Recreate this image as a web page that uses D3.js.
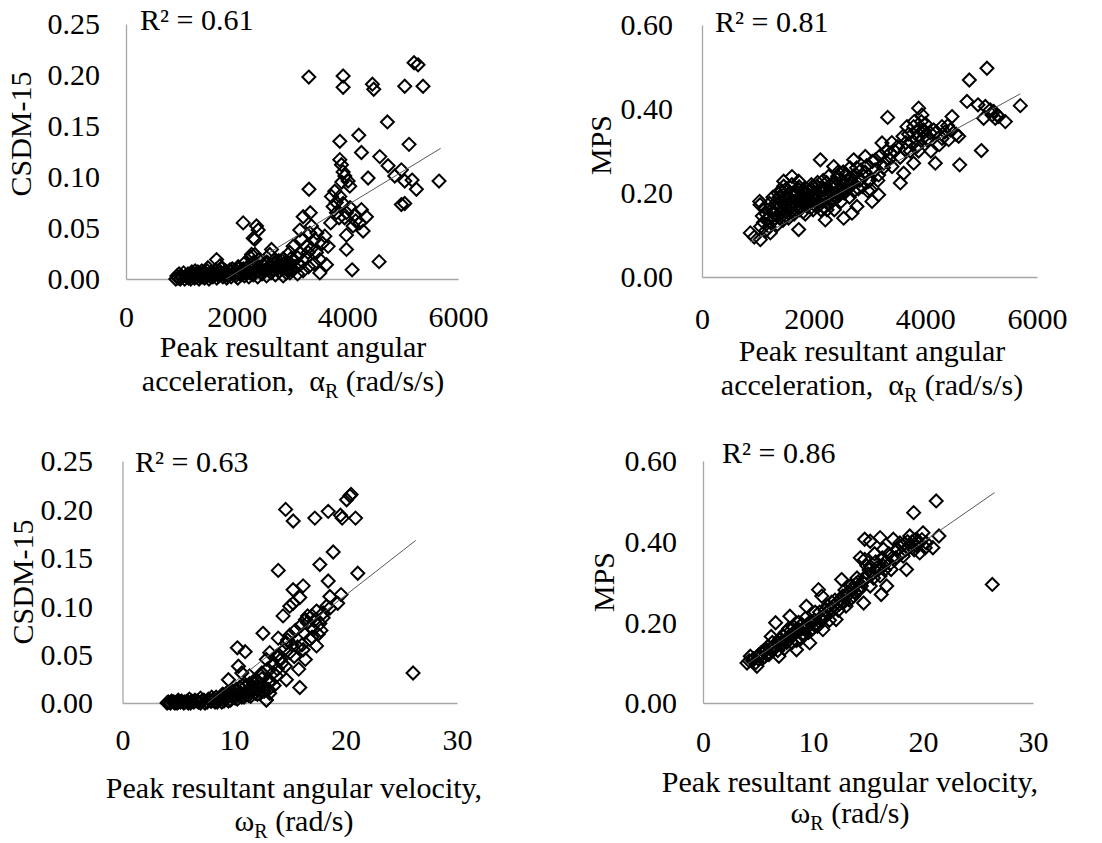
<!DOCTYPE html>
<html><head><meta charset="utf-8">
<script src="https://cdn.jsdelivr.net/npm/d3@7"></script>
<style>
body{margin:0;background:#fff}
svg text{font-family:"Liberation Serif","Times New Roman",serif !important;fill:#000}
</style>
</head><body>
<svg id="chart" width="1102" height="843" font-family="Liberation Serif"></svg>
<script>
// ---------- tick labels ----------
const accelTicks = [0, 2000, 4000, 6000];
const velTicks = [0, 10, 20, 30];
const csdmTicks = [0, 0.05, 0.10, 0.15, 0.20, 0.25];
const mpsTicks = [0, 0.20, 0.40, 0.60];
const r2Values = ["0.61", "0.81", "0.63", "0.86"];
const yTitles = ["CSDM-15", "MPS", "CSDM-15", "MPS"];

// ---------- data: [x, y] pairs ----------
const accelCsdm = [
[900,0.000],[940,0.001],[980,0.000],[1020,0.002],[1060,0.000],[1100,0.003],[1130,0.001],[1170,0.000],[1200,0.004],[1240,0.001],
[1280,0.002],[1320,0.000],[1350,0.005],[1390,0.002],[1420,0.001],[1460,0.003],[1500,0.000],[1530,0.006],[1570,0.002],[1600,0.004],
[1640,0.001],[1680,0.003],[1710,0.007],[1750,0.002],[1790,0.005],[1820,0.001],[1860,0.004],[1900,0.002],[1940,0.006],[1980,0.003],
[2020,0.001],[2060,0.005],[2100,0.008],[2140,0.003],[2180,0.006],[2220,0.002],[2260,0.009],[2300,0.004],[2340,0.007],[2380,0.002],
[2420,0.010],[2460,0.005],[2500,0.008],[2540,0.003],[2580,0.012],[2620,0.006],[2660,0.010],[2700,0.004],[2740,0.014],[2780,0.008],
[2820,0.018],[2860,0.011],[2900,0.006],[2950,0.015],[3000,0.009],
[920,0.003],[960,0.005],[1000,0.002],[1040,0.006],[1080,0.003],[1120,0.005],[1160,0.002],[1190,0.007],[1220,0.003],[1260,0.005],
[1300,0.007],[1340,0.002],[1370,0.008],[1410,0.004],[1440,0.006],[1470,0.008],[1510,0.003],[1550,0.007],[1590,0.005],[1620,0.009],
[1660,0.004],[1690,0.006],[1730,0.010],[1770,0.005],[1800,0.008],[1840,0.003],[1880,0.007],[1920,0.010],[1960,0.005],[2000,0.008],
[2040,0.011],[2080,0.004],[2120,0.010],[2160,0.007],[2200,0.012],[2240,0.006],[2280,0.011],[2320,0.013],[2360,0.008],[2400,0.012],
[2440,0.006],[2480,0.014],[2520,0.009],[2560,0.016],[2600,0.011],[2640,0.008],[2680,0.015],[2720,0.010],[2760,0.018],[2800,0.013],
[2840,0.020],[2880,0.016],[2920,0.010],[2980,0.020],[3040,0.018],[3100,0.005],[3200,0.008],[3300,0.012],[3400,0.015],
[1250,0.008],[1480,0.011],[1637,0.019],[1700,0.013],[1878,0.009],[2028,0.012],[2150,0.016],[2250,0.021],[2330,0.024],[2299,0.016],
[2400,0.019],[2540,0.016],[2600,0.024],[2690,0.019],[2630,0.029],[2750,0.012],[2841,0.003],[2901,0.016],[2961,0.026],[3021,0.032],
[3081,0.022],[3141,0.048],[3141,0.014],[3171,0.039],[3202,0.061],[3262,0.032],[3292,0.026],[3322,0.045],[3352,0.052],[3412,0.039],
[3442,0.026],[3503,0.019],[3503,0.006],[3593,0.042],[3623,0.014],[3653,0.032],[2961,0.006],[3021,0.009],[2118,0.055],[2359,0.052],
[2389,0.048],[2329,0.039],[2269,0.024],[2299,0.040],[3307,0.088],[3304,0.198],[3924,0.199],[3924,0.188],[4453,0.191],[4477,0.186],
[5037,0.189],[5206,0.212],[5278,0.210],[5368,0.189],[4724,0.154],[3864,0.135],[4207,0.141],[4255,0.124],[5115,0.132],[4586,0.120],
[4736,0.111],[4375,0.099],[4977,0.107],[4857,0.101],[5037,0.096],[5170,0.097],[5248,0.088],[5657,0.096],[4977,0.073],[5037,0.074],
[4574,0.017],[4086,0.009],[3864,0.117],[3894,0.112],[3924,0.105],[3954,0.101],[4014,0.096],[4044,0.091],[3773,0.086],[3864,0.081],
[3713,0.081],[3743,0.071],[3924,0.074],[3803,0.065],[3984,0.065],[4134,0.063],[4255,0.068],[4345,0.061],[4225,0.055],[4104,0.052],
[4285,0.047],[3984,0.043],[3984,0.029],[3330,0.065],[3450,0.045],[3550,0.035],[3700,0.055],[3800,0.075],[3850,0.060],[3900,0.095],
[3950,0.060],[4050,0.070],[4150,0.057],[3350,0.030],[3250,0.020],[3150,0.025],[3050,0.012]
];
const accelMps = [
[866,0.105],[937,0.095],[1045,0.089],[1033,0.180],[1040,0.172],[1224,0.105],[1164,0.136],[1313,0.152],[1403,0.168],[1463,0.216],
[1463,0.228],[1612,0.239],[1731,0.228],[1731,0.113],[1881,0.168],[1821,0.184],[1999,0.192],[2060,0.216],[2119,0.279],[2239,0.160],
[2209,0.136],[2328,0.184],[2358,0.263],[2418,0.232],[2478,0.204],[2537,0.140],[2657,0.216],[2716,0.279],[2687,0.152],[2776,0.168],
[2836,0.232],[2925,0.287],[2985,0.228],[3015,0.208],[3045,0.180],[3164,0.196],[3104,0.279],[3164,0.243],[3224,0.319],[3254,0.271],
[3325,0.380],[3373,0.295],[3403,0.263],[3552,0.224],[3612,0.247],[3641,0.303],[3671,0.358],[3791,0.358],[3791,0.271],[3851,0.311],
[3880,0.402],[3940,0.386],[3970,0.350],[4030,0.327],[4089,0.343],[4179,0.271],[4298,0.358],[4418,0.327],[4478,0.382],[4597,0.335],
[4615,0.267],[4746,0.418],[4788,0.469],[4943,0.410],[5003,0.301],[5075,0.406],[5104,0.497],[5164,0.398],[5224,0.394],[5283,0.386],
[5313,0.382],[5253,0.378],[5194,0.386],[5433,0.370],[5701,0.408],[5044,0.378],
[1100,0.130],[1150,0.150],[1200,0.120],[1250,0.160],[1300,0.140],[1320,0.175],[1350,0.125],[1380,0.190],[1400,0.150],[1430,0.205],
[1450,0.135],[1480,0.170],[1500,0.155],[1520,0.185],[1550,0.140],[1580,0.200],[1600,0.165],[1620,0.180],[1650,0.150],[1680,0.195],
[1700,0.170],[1720,0.210],[1750,0.160],[1780,0.185],[1800,0.175],[1830,0.200],[1850,0.150],[1880,0.190],[1900,0.180],[1930,0.205],
[1950,0.165],[1980,0.215],[2000,0.185],[2030,0.170],[2060,0.200],[2100,0.190],[2130,0.160],[2160,0.210],[2200,0.195],[2230,0.225],
[2260,0.175],[2300,0.205],[2330,0.215],[2360,0.185],[2400,0.200],[2430,0.240],[2460,0.195],[2500,0.220],[2530,0.250],[2560,0.205],
[2600,0.230],[2650,0.260],[2700,0.225],[2750,0.245],[2800,0.210],[2850,0.255],[2900,0.240],[2950,0.265],[3000,0.230],[3100,0.255],
[3200,0.290],[3300,0.300],[3400,0.320],[3500,0.310],[3600,0.335],[3700,0.340],[3750,0.320],[3800,0.370],[3850,0.345],[3900,0.355],
[3950,0.330],[4000,0.365],[4100,0.300],[4200,0.345],[4300,0.330],[4400,0.360],
[1050,0.120],[1080,0.145],[1120,0.165],[1140,0.110],[1180,0.140],[1210,0.175],[1240,0.130],[1270,0.190],[1290,0.150],[1330,0.160],
[1360,0.200],[1390,0.140],[1410,0.180],[1440,0.160],[1460,0.195],[1490,0.145],[1510,0.210],[1540,0.170],[1560,0.190],[1590,0.155],
[1610,0.220],[1640,0.175],[1660,0.200],[1690,0.160],[1710,0.185],[1740,0.215],[1760,0.170],[1790,0.195],[1810,0.155],[1840,0.185],
[1860,0.210],[1890,0.170],[1910,0.195],[1940,0.180],[1960,0.220],[1990,0.160],[2010,0.200],[2040,0.185],[2070,0.225],[2090,0.170],
[2120,0.205],[2150,0.180],[2170,0.230],[2190,0.165],[2220,0.210],[2250,0.190],[2270,0.240],[2290,0.175],[2320,0.200],[2350,0.225],
[2370,0.160],[2390,0.215],[2420,0.190],[2440,0.250],[2470,0.210],[2490,0.180],[2520,0.230],[2550,0.200],[2580,0.245],[2610,0.215],
[2640,0.190],[2670,0.235],[2720,0.205],[2770,0.260],[2820,0.230],[2870,0.215],[2920,0.250],[2970,0.205],[3050,0.275],[3150,0.230],
[3250,0.260],[3350,0.280],[3450,0.300],[3550,0.285],[3650,0.320],[3730,0.300],[3830,0.330],[3880,0.300],[3930,0.370],[3980,0.345],
[4050,0.330],[4150,0.350],[4250,0.315],[4350,0.345],[4450,0.350],[4550,0.340]
];
const velCsdm = [
[4.0,0.000],[4.3,0.000],[4.6,0.001],[4.9,0.000],[5.2,0.001],[5.5,0.000],[5.8,0.002],[6.1,0.000],[6.4,0.001],[6.7,0.002],
[7.0,0.000],[7.3,0.003],[7.6,0.001],[7.9,0.002],[8.2,0.004],[8.5,0.001],[8.8,0.005],[9.1,0.002],[9.4,0.006],[9.7,0.003],
[10.0,0.008],[10.3,0.004],[10.6,0.010],[10.9,0.006],[11.2,0.012],[11.5,0.007],[11.8,0.015],[12.1,0.009],[12.4,0.018],[12.7,0.012],
[5.0,0.003],[6.0,0.004],[7.0,0.005],[8.0,0.006],[9.0,0.009],[9.6,0.011],[10.2,0.014],[10.8,0.018],[11.4,0.020],[12.0,0.024],
[12.9,0.003],[13.2,0.010],
[4.1,0.001],[4.4,0.002],[4.7,0.000],[5.0,0.001],[5.3,0.002],[5.6,0.001],[5.9,0.000],[6.2,0.002],[6.5,0.003],[6.8,0.001],
[7.1,0.002],[7.4,0.000],[7.7,0.004],[8.0,0.002],[8.3,0.001],[8.6,0.003],[8.9,0.001],[9.2,0.004],[9.5,0.002],[9.8,0.007],
[10.1,0.005],[10.4,0.009],[10.7,0.006],[11.0,0.011],[11.3,0.008],[11.6,0.013],[11.9,0.010],[12.2,0.014],[12.5,0.012],[12.8,0.016],
[13.1,0.014],[8.4,0.006],[8.9,0.008],[9.3,0.010],[9.9,0.012],[10.5,0.016],[11.1,0.018],[11.7,0.022],[12.3,0.020],[12.6,0.030],
[13.3,0.022],[13.6,0.018],[13.9,0.035],
[14.63,0.200],[15.31,0.188],[17.25,0.191],[18.45,0.198],[19.55,0.194],[19.70,0.191],[20.1,0.210],[20.4,0.214],[20.5,0.2155],[20.9,0.191],
[18.9,0.156],[17.7,0.143],[18.45,0.126],[21.1,0.134],[13.97,0.137],[15.3,0.117],[16.2,0.121],[15.9,0.109],[15.3,0.103],[15.0,0.100],
[14.4,0.090],[16.4,0.086],[18.6,0.110],[19.6,0.112],[19.3,0.103],[18.6,0.098],[18.0,0.093],[17.0,0.090],[16.6,0.083],[17.1,0.076],
[17.55,0.071],[17.4,0.059],[16.8,0.066],[16.1,0.060],[16.4,0.045],[15.8,0.035],[15.9,0.016],[14.7,0.024],[15.0,0.052],[14.7,0.062],
[13.97,0.067],[12.6,0.072],[13.2,0.052],[13.8,0.048],[14.3,0.041],[12.9,0.045],[12.5,0.031],[13.5,0.031],[13.1,0.021],[12.0,0.017],
[12.9,0.003],[10.3,0.057],[11.0,0.053],[10.4,0.038],[10.7,0.031],[9.5,0.024],[11.4,0.028],[11.6,0.017],[11.1,0.010],[26.06,0.031],
[13.5,0.040],[14.0,0.050],[14.2,0.045],[14.5,0.055],[14.8,0.065],[15.0,0.070],[15.2,0.060],[15.5,0.075],[15.7,0.058],[16.0,0.080],
[16.3,0.072],[16.6,0.090],[16.9,0.078],[17.2,0.085],[17.4,0.095],[17.7,0.082],[18.0,0.088],[18.3,0.100],[13.0,0.035],[12.5,0.025],
[13.8,0.028],[14.6,0.038],[15.4,0.048],[16.2,0.055],[17.0,0.068],[17.8,0.075]
];
const velMps = [
[4.0,0.099],[4.3,0.116],[4.5,0.105],[4.9,0.091],[5.0,0.110],[5.3,0.125],[5.6,0.115],[5.9,0.140],[6.0,0.120],[6.3,0.150],
[6.6,0.199],[6.5,0.135],[6.9,0.116],[7.0,0.160],[7.2,0.145],[7.5,0.175],[7.7,0.155],[7.9,0.215],[8.0,0.165],[8.2,0.190],
[8.5,0.132],[8.4,0.175],[8.7,0.200],[8.9,0.160],[9.1,0.185],[9.4,0.240],[9.3,0.210],[9.6,0.175],[9.7,0.149],[9.9,0.200],
[10.2,0.225],[10.5,0.281],[10.4,0.190],[10.8,0.265],[10.9,0.182],[11.0,0.215],[11.3,0.240],[11.5,0.205],[11.8,0.230],[12.1,0.207],
[12.0,0.255],[12.4,0.245],[12.6,0.306],[12.7,0.265],[13.0,0.240],[13.2,0.275],[13.5,0.260],[13.7,0.265],[13.9,0.295],[14.2,0.280],
[14.3,0.360],[14.5,0.300],[14.6,0.248],[14.7,0.406],[14.7,0.356],[15.0,0.320],[15.2,0.401],[15.2,0.339],[15.2,0.290],[15.5,0.310],
[15.8,0.335],[16.1,0.410],[16.1,0.315],[16.2,0.269],[16.4,0.381],[16.6,0.350],[16.7,0.290],[17.0,0.345],[17.1,0.331],[17.3,0.406],
[17.5,0.360],[17.9,0.397],[18.0,0.370],[18.2,0.364],[18.5,0.331],[18.8,0.414],[18.7,0.385],[19.15,0.472],[19.0,0.400],[19.4,0.390],
[19.7,0.372],[20.0,0.422],[20.3,0.397],[20.9,0.385],[21.2,0.501],[21.45,0.414],[26.3,0.294],
[5.5,0.130],[6.2,0.165],[6.8,0.150],[7.4,0.135],[7.8,0.185],[8.1,0.150],[8.6,0.185],[9.0,0.170],[9.5,0.195],[10.0,0.185],
[10.6,0.210],[11.1,0.230],[11.7,0.250],[12.3,0.230],[12.9,0.280],[13.4,0.290],[14.0,0.310],[14.9,0.340],[15.6,0.370],[16.4,0.340],
[17.6,0.380],[18.3,0.395],[19.2,0.380],
[4.2,0.105],[4.6,0.110],[4.8,0.100],[5.1,0.120],[5.4,0.110],[5.7,0.130],[5.8,0.120],[6.1,0.135],[6.4,0.140],[6.7,0.150],
[6.8,0.130],[7.1,0.150],[7.3,0.165],[7.6,0.150],[7.8,0.165],[8.0,0.180],[8.3,0.170],[8.5,0.155],[8.8,0.180],[9.0,0.195],
[9.2,0.170],[9.4,0.185],[9.7,0.200],[9.8,0.180],[10.1,0.205],[10.3,0.195],[10.6,0.225],[10.8,0.205],[11.1,0.215],[11.3,0.225],
[11.6,0.235],[11.9,0.240],[12.2,0.250],[12.5,0.255],[12.8,0.250],[13.1,0.265],[13.3,0.255],[13.6,0.280],[13.8,0.275],[14.1,0.300],
[14.4,0.290],[14.8,0.310],[15.1,0.330],[15.4,0.320],[15.7,0.350],[15.9,0.330],[16.3,0.360],[16.5,0.330],[16.9,0.370],[17.2,0.360],
[17.4,0.355],[17.7,0.380],[18.1,0.390],[18.4,0.380],[18.6,0.400],[18.9,0.390],[19.3,0.405],[19.6,0.395],[19.9,0.405],[20.2,0.385]
];

// trendlines: [slope, intercept, xFirst, xLast]
const trendAccelCsdm = [3.3e-5, -0.0596, 900, 5686];
const trendAccelMps = [7.3e-5, 0.020, 866, 5701];
const trendVelCsdm = [0.0090, -0.0687, 4.0, 26.3];
const trendVelMps = [0.0189, 0.0207, 4.0, 26.5];

// ---------- layout ----------
const panels = [
  {data: accelCsdm, trend: trendAccelCsdm, xDom:[0,6000], yDom:[0,0.25], xT: accelTicks, yT: csdmTicks,
   L:126, R:458, T:24, B:279, yLab:100, xLabY:317, tX:20, tY:134, r2X:140, r2Y:30,
   xt1:357, xt2:391, xtX:293, title1:"Peak resultant angular", sym:"α", unit:" (rad/s/s)", pre:"acceleration,  "},
  {data: accelMps, trend: trendAccelMps, xDom:[0,6000], yDom:[0,0.6], xT: accelTicks, yT: mpsTicks,
   L:702, R:1037, T:25, B:277, yLab:673, xLabY:319, tX:600, tY:145, r2X:715, r2Y:32,
   xt1:361, xt2:395, xtX:872, title1:"Peak resultant angular", sym:"α", unit:" (rad/s/s)", pre:"acceleration,  "},
  {data: velCsdm, trend: trendVelCsdm, xDom:[0,30], yDom:[0,0.25], xT: velTicks, yT: csdmTicks,
   L:122.5, R:457, T:461, B:703, yLab:93, xLabY:740, tX:22, tY:582, r2X:135, r2Y:472,
   xt1:798, xt2:831, xtX:294, title1:"Peak resultant angular velocity,", sym:"ω", unit:" (rad/s)", pre:""},
  {data: velMps, trend: trendVelMps, xDom:[0,30], yDom:[0,0.6], xT: velTicks, yT: mpsTicks,
   L:703, R:1033, T:461, B:703, yLab:677, xLabY:742, tX:603, tY:582, r2X:722, r2Y:463,
   xt1:792, xt2:823, xtX:850, title1:"Peak resultant angular velocity,", sym:"ω", unit:" (rad/s)", pre:""}
];

const svg = d3.select("#chart");
const FS = 30;
const FONT = "Liberation Serif";
const AXIS = "#a6a6a6";
const rD = 6.5;
const diamond = `M0,${-rD}L${rD},0L0,${rD}L${-rD},0Z`;

panels.forEach((p, i) => {
  const x = d3.scaleLinear().domain(p.xDom).range([p.L, p.R]);
  const y = d3.scaleLinear().domain(p.yDom).range([p.B, p.T]);
  const g = svg.append("g");

  // y axis
  const ya = g.append("g").attr("transform", `translate(${p.L},0)`)
    .call(d3.axisLeft(y).tickValues(p.yT).tickSize(0).tickSizeOuter(0).tickFormat(d3.format(".2f")).tickPadding(p.L - p.yLab));
  ya.attr("font-family", FONT).attr("font-size", FS);
  ya.select(".domain").attr("stroke", AXIS).attr("stroke-width", 1.3);
  ya.selectAll("text").attr("font-size", FS).attr("font-family", FONT).attr("dy", "0.33em");

  // x axis
  const xa = g.append("g").attr("transform", `translate(0,${p.B})`)
    .call(d3.axisBottom(x).tickValues(p.xT).tickSize(0).tickSizeOuter(0).tickFormat(d3.format("d")));
  xa.attr("font-family", FONT).attr("font-size", FS);
  xa.select(".domain").attr("stroke", AXIS).attr("stroke-width", 1.3);
  xa.selectAll("text").attr("font-size", FS).attr("font-family", FONT)
    .attr("y", p.xLabY - p.B).attr("dy", "0.33em");

  // points
  g.append("g").selectAll("path").data(p.data).join("path")
    .attr("d", diamond)
    .attr("transform", d => `translate(${x(d[0])},${y(d[1])})`)
    .attr("fill", "none").attr("stroke", "#000").attr("stroke-width", 2);

  // trendline (clipped at y = 0)
  const [m, b, x0, x1] = p.trend;
  const xs = Math.max(x0, b < 0 ? -b / m : x0);
  g.append("line")
    .attr("x1", x(xs)).attr("y1", y(m * xs + b))
    .attr("x2", x(x1)).attr("y2", y(m * x1 + b))
    .attr("stroke", "#595959").attr("stroke-width", 1);

  // R² label
  g.append("text").attr("x", p.r2X).attr("y", p.r2Y).attr("font-size", FS).attr("font-family", FONT)
    .text("R² = " + r2Values[i]);

  // y title
  g.append("text").attr("transform", `translate(${p.tX},${p.tY}) rotate(-90)`)
    .attr("text-anchor", "middle").attr("dy", "0.35em").attr("font-size", FS).attr("font-family", FONT)
    .text(yTitles[i]);

  // x title
  g.append("text").attr("x", p.xtX).attr("y", p.xt1).attr("text-anchor", "middle")
    .attr("font-size", FS).attr("font-family", FONT).text(p.title1);
  const t2 = g.append("text").attr("x", p.xtX).attr("y", p.xt2).attr("text-anchor", "middle")
    .attr("font-size", FS).attr("font-family", FONT).style("white-space", "pre");
  t2.append("tspan").text(p.pre + p.sym);
  t2.append("tspan").attr("font-size", 20).attr("dy", 7).text("R");
  t2.append("tspan").attr("dy", -7).text(p.unit);
});
</script>
</body></html>
